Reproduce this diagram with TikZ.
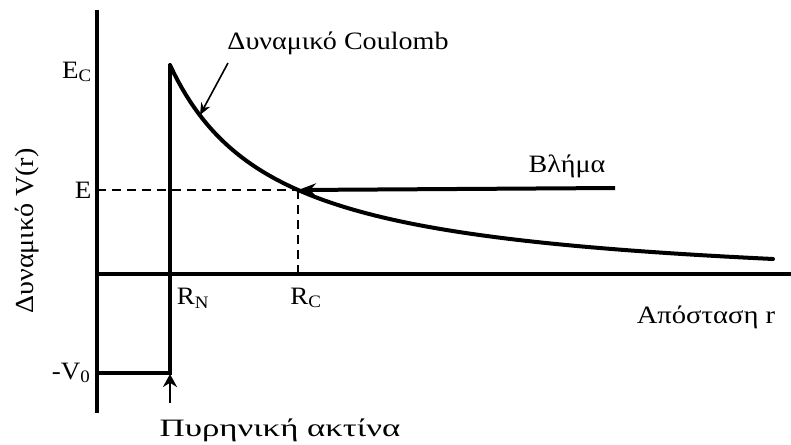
\documentclass[tikz,border=0pt]{standalone}
\usepackage{fontspec}
\setmainfont{Liberation Serif}[FakeStretch=1.08]
\usetikzlibrary{arrows.meta}

\begin{document}
\begin{tikzpicture}[
  x=1pt,y=-1pt,
  font=\fontsize{25}{28}\selectfont,
  axis/.style={line width=4pt},
  guide/.style={line width=1.8pt,dash pattern=on 9pt off 6pt},
  pointer/.style={line width=1.6pt,-{Stealth[length=12pt,width=10pt]}},
]
\useasboundingbox (0,0) rectangle (791,444);
% axes
\coordinate (ytop) at (97,10);
\coordinate (ybot) at (97,413);
\coordinate (orig) at (97,274);
\coordinate (xend) at (791,274);
\draw[axis] (ytop) -- (ybot);
\draw[axis] (orig) -- (xend);
% well and wall
\coordinate (v0left) at (97,373);
\coordinate (wallbot) at (170,373);
\coordinate (walltop) at (170,65);
\draw[axis,line join=miter] (v0left) -- (wallbot) -- (walltop);
% coulomb tail
\draw[line width=4pt,line cap=round] plot[domain=170:773,samples=150]
  (\x,{292.9-240.24/(\x-64.6)*100});
% energy level
\coordinate (eleft) at (97,190);
\coordinate (rc) at (298,190);
\coordinate (rcfoot) at (298,274);
\draw[guide] (eleft) -- (rc);
\draw[guide] (rc) -- (rcfoot);
% projectile
\coordinate (beam) at (615,188);
\draw[line width=4pt,-{Stealth[length=18pt,width=13pt]}] (beam) -- (rc);
% labels
\node (ec) at (77,72) {E\textsubscript{C}};
\node (elab) at (83,190) {E};
\node (v0) at (71,373) {-V\textsubscript{0}};
\node (rn) at (193,298) {R\textsubscript{N}};
\node (rclab) at (306,298) {R\textsubscript{C}};
\node (dist) at (706,317) {\scalebox{1.06}[1]{Απόσταση r}};
\node (proj) at (567,166) {\scalebox{1.04}[1]{Βλήμα}};
\node (coul) at (338,43) {\scalebox{1.04}[1]{Δυναμικό Coulomb}};
\node (nuc) at (280,430) {\scalebox{1.29}[1]{Πυρηνική ακτίνα}};
\node[rotate=90,font=\fontsize{26}{30}\selectfont] (vlab) at (27,231) {Δυναμικό V(r)};
% pointers
\coordinate (coultail) at (228,63);
\coordinate (coultip) at (200,115);
\coordinate (nucbase) at (170,403);
\coordinate (nuctip) at (170,374);
\draw[pointer] (coultail) -- (coultip);
\draw[line width=2.6pt,-{Stealth[length=13pt,width=14pt]}] (nucbase) -- (nuctip);
\end{tikzpicture}
\end{document}
